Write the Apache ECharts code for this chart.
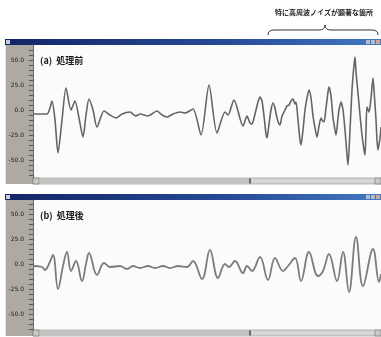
<!DOCTYPE html>
<html lang="ja">
<head>
<meta charset="UTF-8">
<title>処理前・処理後の波形</title>
<script src="https://cdn.jsdelivr.net/npm/echarts@6/dist/echarts.min.js"></script>
<style>
    html, body { margin: 0; padding: 0; background: #fff; }
    #chart { width: 381px; height: 337px; }
</style>
</head>
<body>
<div id="chart"></div>
<script>
// 時間軸（サンプル番号）と振幅：(a) 処理前
const timeA = [0, 7, 14, 17, 19, 22, 25, 29, 33, 38, 42, 46, 50, 53, 56, 60, 64, 71, 77, 83, 89, 97, 103, 107, 115, 124, 129, 134, 140, 147, 152, 160, 168, 176, 184, 192, 195, 201, 210, 214,
    217, 219, 221, 223, 225, 227, 229, 231, 233, 234, 236, 238, 240, 242, 244, 246, 247, 249, 251, 252, 254, 256, 258, 260, 262, 263, 265, 267, 268, 270,
    272, 274, 276, 278, 280, 282, 284, 286, 288, 289, 291, 293, 295, 296, 298, 300, 301, 303, 305, 306, 308, 310, 312, 314, 315, 317, 319, 321, 322, 323,
    325, 327, 329, 331, 332, 333, 334, 336, 338, 340, 341, 343, 344, 345, 347, 348];
const valA = [-4, -4, -4, 2, 9, -10, -43, -10, 22, 0, 9, -8, -27, -5, 11, 0, -17, -1, -5, -8, -4, -2, -6, -4, -6, -1, -5, -7, -4, -2, -3, 1, -25, 25, -23, -2, -5, 10, -16, -6,
    -13, -14, -8, 0, 8, 13, 9, -6, -24, -28, -14, 0, 7, 2, -8, -14, -15, -6, -2, 0, 4, 5, 9, 11, 6, 8, -10, -30, -35, -20,
    0, 12, 20, 12, -6, -18, -27, -16, -8, -10, -12, 2, 18, 23, 14, -8, -14, -25, -8, 0, 8, 0, -20, -45, -55, -20, 20, 45, 53, 38,
    17, -5, -25, -40, -45, -20, 3, -2, 12, 32, 20, -10, -30, -40, -28, -17];

// (b) 処理後
const timeB = [0, 9, 12, 16, 20, 25, 30, 34, 38, 43, 49, 53, 56, 64, 71, 77, 87, 94, 100, 107, 115, 122, 130, 137, 145, 154, 160, 169, 177, 185,
    192, 196, 202, 210, 214, 219, 227, 235, 242, 250, 255, 262, 268, 276, 285, 290, 296, 304, 310, 316, 323, 330, 340, 346, 348];
const valB = [-2, -3, -6, 0, 9, -25, -2, 12, -7, 3, -17, 0, 11, -11, 1, -3, -2, -5, -2, -4, -2, -4, -2, -4, -2, -3, 3, -15, 14, -14,
    0, -3, 3, -9, -2, -7, 7, -16, 6, -7, -2, 6, -17, 12, -12, -7, 10, -17, 12, -28, 27, -22, 15, -18, -10];

const yLabelValues = [-50, -25, 0, 25, 50];
const panelTitles = ['(a)  処理前', '(b)  処理後'];
const noteText = '特に高周波ノイズが顕著な箇所';

function pairs(t, v) {
    return t.map((x, i) => [x, v[i]]);
}

const minorTicks = [];
for (let v = -65; v <= 60; v += 5) minorTicks.push(v);

const panels = [
    { top: 45, height: 133, min: -68, max: 65 },
    { top: 200, height: 130, min: -66, max: 64 }
];

function yAxis(i, p) {
    return {
        type: 'value', gridIndex: i, min: p.min, max: p.max,
        axisLine: { show: true, lineStyle: { color: '#6f6b64', width: 1 } },
        axisTick: { show: true, customValues: minorTicks, length: 4, lineStyle: { color: '#5c5851' } },
        axisLabel: {
            customValues: yLabelValues, margin: 9, fontSize: 6, color: '#24221f',
            fontFamily: 'DejaVu Sans',
            formatter: v => v.toFixed(1)
        },
        splitLine: { show: false }
    };
}

function windowFrame(p) {
    const barTop = p.top - 6;
    const bottom = p.top + p.height;
    return [
        // タイトルバー
        { type: 'rect', shape: { x: 5, y: barTop, width: 376, height: 6 },
          style: { fill: { type: 'linear', x: 0, y: 0, x2: 1, y2: 0,
            colorStops: [{ offset: 0, color: '#122566' }, { offset: 0.6, color: '#274b98' }, { offset: 1, color: '#4378c4' }] } } },
        { type: 'rect', shape: { x: 6, y: barTop + 1, width: 4, height: 4 }, style: { fill: '#c9ced8' } },
        { type: 'rect', shape: { x: 366, y: barTop + 1, width: 4, height: 4 }, style: { fill: '#b8bcc4' } },
        { type: 'rect', shape: { x: 371, y: barTop + 1, width: 4, height: 4 }, style: { fill: '#b8bcc4' } },
        { type: 'rect', shape: { x: 376, y: barTop + 1, width: 4, height: 4 }, style: { fill: '#c8a8a0' } },
        // 目盛りパネル
        { type: 'rect', shape: { x: 5, y: p.top, width: 28, height: p.height + 6 }, style: { fill: '#aeaaa2' }, z: -2 },
        { type: 'rect', shape: { x: 5, y: p.top, width: 1, height: p.height + 6 }, style: { fill: '#e6e4e0' }, z: -2 },
        // 描画領域
        { type: 'rect', shape: { x: 33, y: p.top, width: 348, height: p.height }, style: { fill: '#fbfbfb' }, z: -2 },
        // スクロールバー
        { type: 'rect', shape: { x: 33, y: bottom, width: 348, height: 6 }, style: { fill: '#d6d6d4', stroke: '#8e8e8c', lineWidth: 0.6 } },
        { type: 'rect', shape: { x: 40, y: bottom + 1, width: 210, height: 4 }, style: { fill: '#c2c2c0' } },
        { type: 'rect', shape: { x: 249, y: bottom + 0.5, width: 2, height: 5 }, style: { fill: '#6a6a68' } },
        { type: 'rect', shape: { x: 33, y: bottom, width: 6, height: 6 }, style: { fill: '#c8c8c6', stroke: '#707070', lineWidth: 0.6 } },
        { type: 'rect', shape: { x: 375, y: bottom, width: 6, height: 6 }, style: { fill: '#c8c8c6', stroke: '#707070', lineWidth: 0.6 } }
    ];
}

const chart = echarts.init(document.getElementById('chart'), null, { renderer: 'canvas' });

const brace = { stroke: '#333', lineWidth: 1, fill: null };
const graphics = [];
panels.forEach(p => graphics.push(...windowFrame(p)));
graphics.push(
    { type: 'text', x: 40, y: 56, z: 10,
      style: { text: panelTitles[0], font: 'bold 9px "Noto Sans CJK JP"', fill: '#1a1a1a' } },
    { type: 'text', x: 40, y: 211, z: 10,
      style: { text: panelTitles[1], font: 'bold 9px "Noto Sans CJK JP"', fill: '#1a1a1a' } },
    { type: 'text', x: 275, y: 9,
      style: { text: noteText, font: 'bold 7px "Noto Sans CJK JP"', fill: '#222' } },
    // 波括弧
    { type: 'bezierCurve', shape: { x1: 268, y1: 35, x2: 274, y2: 30, cpx1: 268, cpy1: 30 }, style: brace },
    { type: 'line', shape: { x1: 274, y1: 30, x2: 319, y2: 30 }, style: brace },
    { type: 'bezierCurve', shape: { x1: 319, y1: 30, x2: 325, y2: 25, cpx1: 325, cpy1: 30 }, style: brace },
    { type: 'bezierCurve', shape: { x1: 325, y1: 25, x2: 331, y2: 30, cpx1: 325, cpy1: 30 }, style: brace },
    { type: 'line', shape: { x1: 331, y1: 30, x2: 372, y2: 30 }, style: brace },
    { type: 'bezierCurve', shape: { x1: 372, y1: 30, x2: 378, y2: 35, cpx1: 378, cpy1: 30 }, style: brace }
);

chart.setOption({
    animation: false,
    backgroundColor: '#ffffff',
    grid: panels.map(p => ({ left: 33, right: 0, top: p.top, height: p.height })),
    xAxis: panels.map((p, i) => ({
        type: 'value', gridIndex: i, min: 0, max: 348, show: false
    })),
    yAxis: panels.map((p, i) => yAxis(i, p)),
    series: [
        { type: 'line', xAxisIndex: 0, yAxisIndex: 0, data: pairs(timeA, valA), smooth: 0.25,
          symbol: 'none', lineStyle: { color: '#656565', width: 1.6 } },
        { type: 'line', xAxisIndex: 1, yAxisIndex: 1, data: pairs(timeB, valB), smooth: 0.4,
          symbol: 'none', lineStyle: { color: '#7c7c7c', width: 1.8 } }
    ],
    graphic: graphics
});
</script>
</body>
</html>
